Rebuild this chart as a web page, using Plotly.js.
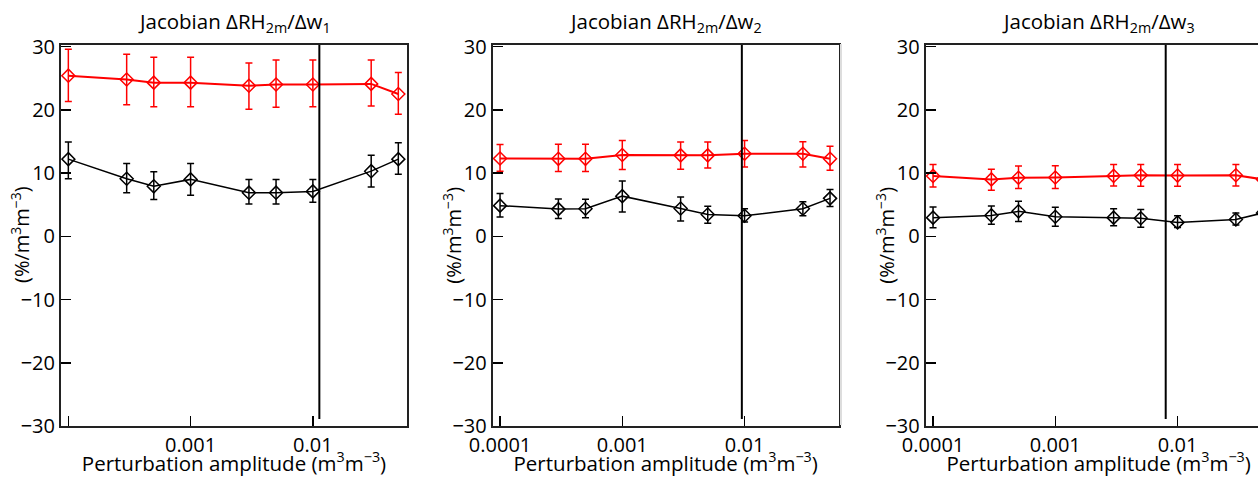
<!DOCTYPE html>
<html>
<head>
<meta charset="utf-8">
<script src="https://cdn.plot.ly/plotly-3.0.1.min.js"></script>
<style>
html, body { margin:0; padding:0; overflow:hidden; background:#fff; }
#chart { width:1290px; height:477px; }
</style>
</head>
<body>
<div id="chart"></div>
<script>
// Perturbation amplitudes (m3 m-3)
const amplitudes = [1e-4, 3e-4, 5e-4, 1e-3, 3e-3, 5e-3, 1e-2, 3e-2, 5e-2];

// Panel 1: dRH2m/dw1
const p1Red = [25.4, 24.8, 24.3, 24.3, 23.8, 24.0, 24.0, 24.1, 22.5];
const p1RedPlus = [4.2, 4.0, 4.0, 4.0, 3.6, 3.9, 3.9, 3.8, 3.4];
const p1RedMinus = [4.1, 4.0, 3.8, 3.8, 3.7, 3.6, 3.5, 3.5, 3.2];
const p1Black = [12.2, 9.1, 7.9, 9.0, 6.9, 6.9, 7.1, 10.3, 12.2];
const p1BlackPlus = [2.7, 2.4, 2.3, 2.5, 2.1, 2.1, 1.9, 2.5, 2.6];
const p1BlackMinus = [3.1, 2.2, 2.1, 2.5, 1.8, 1.8, 1.7, 2.5, 2.4];

// Panel 2: dRH2m/dw2
const p2Red = [12.3, 12.25, 12.25, 12.85, 12.8, 12.8, 13.05, 13.05, 12.25];
const p2RedPlus = [2.2, 2.3, 2.3, 2.3, 2.1, 2.1, 2.1, 1.9, 2.0];
const p2RedMinus = [2.0, 2.0, 2.0, 2.3, 2.2, 2.0, 2.1, 2.1, 1.8];
const p2Black = [4.85, 4.3, 4.35, 6.35, 4.4, 3.45, 3.25, 4.35, 6.0];
const p2BlackPlus = [1.9, 1.6, 1.5, 2.4, 1.8, 1.3, 1.1, 1.1, 1.4];
const p2BlackMinus = [1.8, 1.5, 1.4, 2.5, 2.0, 1.4, 1.0, 1.1, 1.3];

// Panel 3: dRH2m/dw3
const p3Red = [9.55, 9.0, 9.25, 9.3, 9.55, 9.65, 9.6, 9.65, 9.0];
const p3RedPlus = [1.8, 1.6, 1.85, 1.85, 1.8, 1.7, 1.75, 1.7, 1.7];
const p3RedMinus = [1.75, 1.7, 1.7, 1.75, 1.6, 1.75, 1.7, 1.7, 1.7];
const p3Black = [2.95, 3.3, 3.95, 3.1, 2.95, 2.85, 2.2, 2.65, 3.7];
const p3BlackPlus = [1.7, 1.5, 1.6, 1.5, 1.4, 1.4, 1.05, 1.05, 1.2];
const p3BlackMinus = [1.6, 1.4, 1.6, 1.5, 1.3, 1.4, 0.8, 0.85, 1.2];

// Vertical reference amplitudes
const refAmplitudes = [0.0113, 0.0095, 0.0080];

const panelTitles = [
  'Jacobian ΔRH<sub>2m</sub>/Δw<sub>1</sub>',
  'Jacobian ΔRH<sub>2m</sub>/Δw<sub>2</sub>',
  'Jacobian ΔRH<sub>2m</sub>/Δw<sub>3</sub>'
];
const xTitle = 'Perturbation amplitude (m<sup>3</sup>m<sup>−3</sup>)';
const yTitle = '(%/m<sup>3</sup>m<sup>−3</sup>)';
const xTickVals = [1e-4, 1e-3, 1e-2];
const xTickText1 = ['', '0.001', '0.01'];
const xTickText = ['0.0001', '0.001', '0.01'];
const yTickVals = [-30, -20, -10, 0, 10, 20, 30];
const yTickText = ['−30', '−20', '−10', '0', '10', '20', '30'];

const W = 1290, H = 477;
const FONT = 'Open Sans, Noto Sans, sans-serif';
const panels = [
  {red: p1Red, rp: p1RedPlus, rm: p1RedMinus, blk: p1Black, bp: p1BlackPlus, bm: p1BlackMinus, left: 61, ticktext: xTickText1},
  {red: p2Red, rp: p2RedPlus, rm: p2RedMinus, blk: p2Black, bp: p2BlackPlus, bm: p2BlackMinus, left: 492.7, ticktext: xTickText},
  {red: p3Red, rp: p3RedPlus, rm: p3RedMinus, blk: p3Black, bp: p3BlackPlus, bm: p3BlackMinus, left: 925.7, ticktext: xTickText}
];
const PW = 346;
const yDom = [(H - 426) / H, (H - 44.7) / H];

const traces = [];
const layout = {
  width: W, height: H,
  margin: {l: 0, r: 0, t: 0, b: 0},
  paper_bgcolor: '#fff', plot_bgcolor: '#fff',
  showlegend: false,
  font: {family: FONT, size: 20, color: '#000'},
  annotations: [],
  shapes: []
};

panels.forEach((p, i) => {
  const xa = i === 0 ? 'x' : 'x' + (i + 1);
  const ya = i === 0 ? 'y' : 'y' + (i + 1);
  traces.push({
    x: amplitudes, y: p.red, xaxis: xa, yaxis: ya, type: 'scatter', mode: 'lines+markers',
    line: {color: '#ff0000', width: 2},
    marker: {symbol: 'diamond-open', size: 10, color: '#ff0000', line: {width: 1.5, color: '#ff0000'}},
    error_y: {type: 'data', symmetric: false, array: p.rp, arrayminus: p.rm, color: '#ff0000', thickness: 1.5, width: 3.5},
    cliponaxis: true
  });
  traces.push({
    x: amplitudes, y: p.blk, xaxis: xa, yaxis: ya, type: 'scatter', mode: 'lines+markers',
    line: {color: '#000000', width: 1.5},
    marker: {symbol: 'diamond-open', size: 10, color: '#000000', line: {width: 1.5, color: '#000000'}},
    error_y: {type: 'data', symmetric: false, array: p.bp, arrayminus: p.bm, color: '#000000', thickness: 1.5, width: 3.5},
    cliponaxis: true
  });
  const xk = 'xaxis' + (i === 0 ? '' : (i + 1));
  const yk = 'yaxis' + (i === 0 ? '' : (i + 1));
  layout[xk] = {
    type: 'log', domain: [p.left / W, (p.left + PW) / W], anchor: ya,
    range: [-4.06, -1.23],
    tickmode: 'array', tickvals: xTickVals, ticktext: p.ticktext,
    ticks: 'inside', ticklen: 10, tickwidth: 1.5, tickcolor: '#000',
    showline: true, mirror: true, linecolor: '#222', linewidth: 2,
    showgrid: false, zeroline: false,
    tickfont: {family: FONT, size: 20, color: '#000'},
    title: {text: xTitle, font: {family: FONT, size: 20.5, color: '#000'}, standoff: 5}
  };
  layout[yk] = {
    domain: yDom, anchor: xa, range: [-30, 30.3],
    tickmode: 'array', tickvals: yTickVals, ticktext: yTickText,
    ticks: 'inside', ticklen: 10, tickwidth: 1.5, tickcolor: '#000',
    showline: true, mirror: true, linecolor: '#222', linewidth: 2,
    showgrid: false, zeroline: false,
    tickfont: {family: FONT, size: 20, color: '#000'}
  };
  layout.annotations.push({
    text: panelTitles[i], xref: 'paper', yref: 'paper',
    x: (p.left + PW / 2) / W, y: 1 - 22 / H, xanchor: 'center', yanchor: 'middle',
    showarrow: false, font: {family: FONT, size: 20.5, color: '#000'}
  });
  layout.annotations.push({
    text: yTitle, xref: 'paper', yref: 'paper', textangle: -90,
    x: (p.left - 41) / W, y: 1 - 235 / H, xanchor: 'center', yanchor: 'middle',
    showarrow: false, font: {family: FONT, size: 20, color: '#000'}
  });
  layout.shapes.push({
    type: 'line', xref: xa, yref: ya,
    x0: refAmplitudes[i], x1: refAmplitudes[i], y0: -28.9, y1: 30.3,
    line: {color: '#000', width: 2}
  });
});

layout.shapes.push({
  type: 'line', xref: 'paper', yref: 'paper',
  x0: 841 / W, x1: 841 / W, y0: (H - 425) / H, y1: (H - 44) / H,
  line: {color: '#dddddd', width: 2}
});

Plotly.newPlot('chart', traces, layout, {displayModeBar: false, staticPlot: true});
</script>
</body>
</html>
